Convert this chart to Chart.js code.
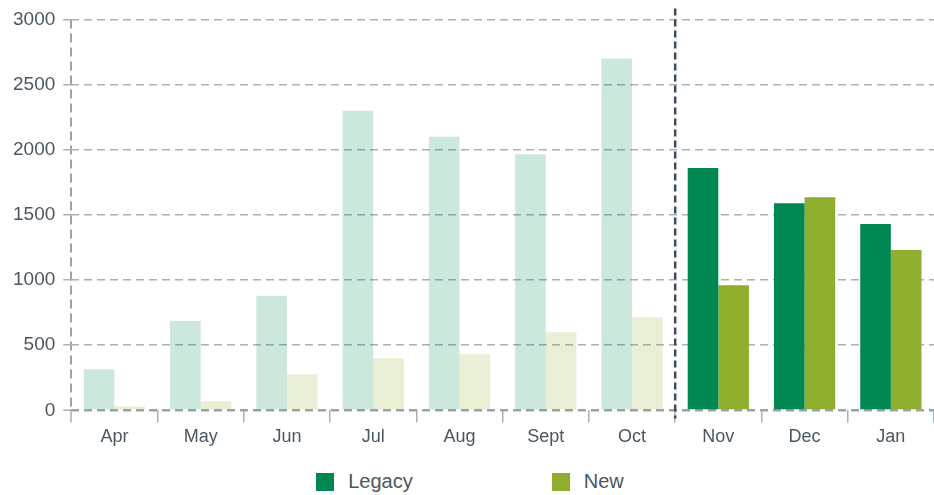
<!DOCTYPE html>
<html>
<head>
<meta charset="utf-8">
<script src="https://cdn.jsdelivr.net/npm/chart.js@4/dist/chart.umd.min.js"></script>
<style>
  body { margin: 0; background: #fff; font-family: "Liberation Sans", Arial, sans-serif; }
  #wrap { position: relative; width: 934px; height: 495px; }
  #chartBox { position: absolute; left: 0; top: 0; width: 934px; height: 454px; }
  #legend { position: absolute; left: 3px; top: 470px; width: 934px; display: flex; justify-content: center; gap: 139px; }
  .item { display: flex; align-items: center; font-size: 20px; color: #4a5761; }
  .swatch { width: 18px; height: 18px; margin-right: 14px; }
</style>
</head>
<body>
<div id="wrap">
  <div id="chartBox"><canvas id="salesChart"></canvas></div>
  <div id="legend"></div>
</div>
<script>
const months = ['Apr', 'May', 'Jun', 'Jul', 'Aug', 'Sept', 'Oct', 'Nov', 'Dec', 'Jan'];
const legacy = [315, 685, 880, 2300, 2100, 1965, 2700, 1860, 1590, 1430];
const newSeries = [30, 70, 275, 400, 430, 600, 715, 960, 1635, 1230];
const yTicks = [0, 500, 1000, 1500, 2000, 2500, 3000];
const firstForecast = 7; // Nov onwards drawn solid

const legacyColor = '#008752';
const newColor = '#8fae2e';
const textColor = '#4a5761';
const gridColor = '#a9b0b6';
const axisColor = '#9aa3aa';

// past months are faded
function colorsFor(solid, faded) {
  return months.map((m, i) => (i < firstForecast ? faded : solid));
}

const separator = {
  id: 'separator',
  afterDatasetsDraw(chart) {
    const x = chart.scales.x.getPixelForValue(firstForecast - 0.5);
    const { top, bottom } = chart.chartArea;
    const ctx = chart.ctx;
    ctx.save();
    ctx.strokeStyle = '#3d4b56';
    ctx.lineWidth = 2.5;
    ctx.setLineDash([7, 4]);
    ctx.beginPath();
    ctx.moveTo(x, top - 11);
    ctx.lineTo(x, bottom + 8);
    ctx.stroke();
    ctx.restore();
  }
};

const datasets = [
  {
    label: 'Legacy',
    data: legacy,
    backgroundColor: colorsFor(legacyColor, 'rgba(0, 135, 82, 0.2)'),
    legendColor: legacyColor
  },
  {
    label: 'New',
    data: newSeries,
    backgroundColor: colorsFor(newColor, 'rgba(143, 174, 46, 0.2)'),
    legendColor: newColor
  }
];

const ctx = document.getElementById('salesChart').getContext('2d');
new Chart(ctx, {
  type: 'bar',
  data: { labels: months, datasets },
  options: {
    responsive: true,
    maintainAspectRatio: false,
    animation: false,
    layout: { padding: { left: 5, top: 18, right: 0, bottom: 2 } },
    datasets: { bar: { categoryPercentage: 0.71, barPercentage: 1.0, borderWidth: 0 } },
    plugins: { legend: { display: false }, tooltip: { enabled: false } },
    scales: {
      x: {
        offset: true,
        grid: {
          offset: true,
          drawOnChartArea: true,
          drawTicks: true,
          tickLength: 12,
          // only the first line (left edge) shows, as the dashed y axis
          color: c => (c.index === 0 ? axisColor : 'rgba(0,0,0,0)'),
          lineWidth: c => (c.index === 0 ? 2 : 1.5),
          tickColor: gridColor,
          tickWidth: 1.5
        },
        border: { display: false, dash: [9, 5] },
        ticks: {
          color: textColor,
          font: { family: 'Liberation Sans', size: 18 },
          padding: 4,
          maxRotation: 0
        }
      },
      y: {
        min: 0,
        max: 3000,
        afterBuildTicks(axis) {
          axis.ticks = yTicks.map(v => ({ value: v }));
        },
        grid: {
          color: c => (c.tick && c.tick.value === 0 ? axisColor : gridColor),
          lineWidth: c => (c.tick && c.tick.value === 0 ? 2.5 : 1.5),
          tickLength: 8,
          tickColor: gridColor,
          tickWidth: 1.5
        },
        border: { display: false, dash: [8, 5] },
        ticks: {
          color: textColor,
          font: { family: 'Liberation Sans', size: 19 },
          padding: 8,
          callback: v => String(v)
        }
      }
    }
  },
  plugins: [separator]
});

const legendEl = document.getElementById('legend');
datasets.forEach(ds => {
  const item = document.createElement('div');
  item.className = 'item';
  item.innerHTML = `<span class="swatch" style="background:${ds.legendColor}"></span><span>${ds.label}</span>`;
  legendEl.appendChild(item);
});
</script>
</body>
</html>
